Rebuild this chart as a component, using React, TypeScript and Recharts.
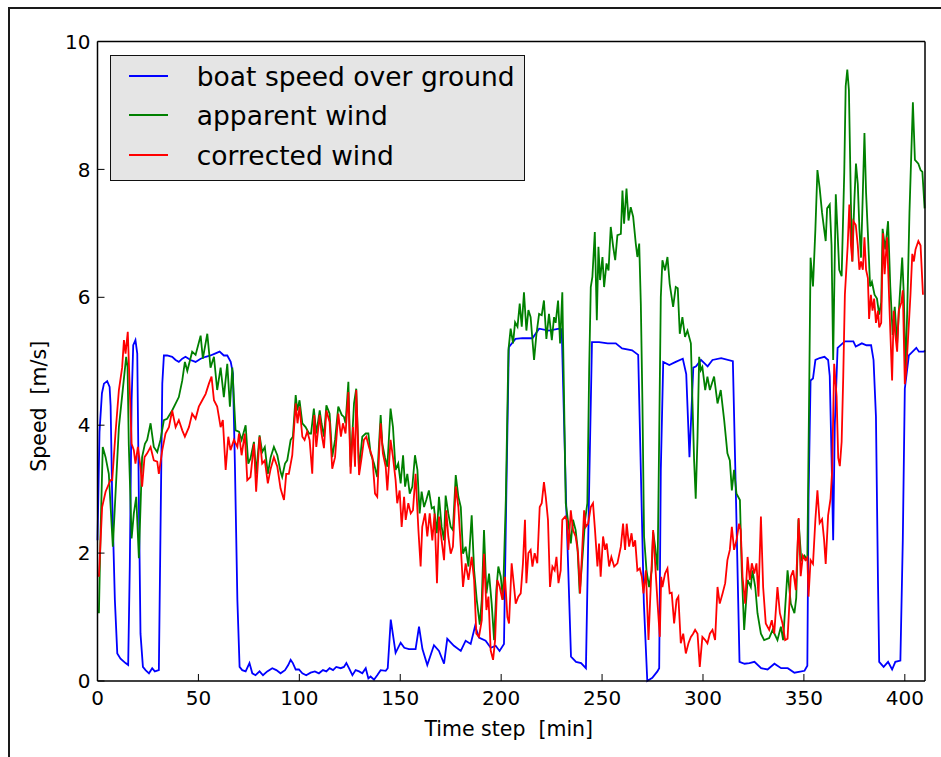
import React from 'react';
import { LineChart, Line, XAxis, YAxis, Legend } from 'recharts';

// ---- data (time step [min], speed [m/s]) ----
const boatSpeed: [number, number][] = [
  [0,2.2],[1,3.9],[2.2,4.5],[3.2,4.65],[4.8,4.69],[6,4.6],[6.5,4.3],[7.3,2.83],[8.6,1.27],[9.8,0.43],[11.4,0.35],[13.9,0.28],[15.2,0.25],[16,1.79],[16.9,4.39],[17.7,5.25],[18.8,5.33],[19.7,5.12],[20.5,2.83],[21.3,0.74],[22.5,0.22],[23.8,0.17],[25.5,0.12],[27.1,0.2],[28.4,0.15],[30.4,0.17],[31.2,2.31],[32.1,4.65],[32.9,5.09],[34.5,5.09],[37,5.07],[38.7,5.02],[40.3,4.99],[42,5.04],[43.6,5.07],[46.1,5.02],[48.6,4.99],[51.1,5.04],[53.6,5.07],[56,5.09],[58.2,5.12],[60.5,5.15],[62.6,5.09],[64.3,5.09],[66,4.99],[67.1,4.81],[68.1,3.35],[69.3,1.27],[70.4,0.22],[71.7,0.17],[73.4,0.15],[75.3,0.28],[76.7,0.12],[78.3,0.09],[80.3,0.15],[82,0.09],[84.1,0.15],[86.6,0.2],[88.6,0.17],[90.7,0.12],[92.9,0.17],[94.5,0.25],[95.7,0.33],[96.8,0.28],[98.2,0.18],[99.8,0.18],[101.5,0.12],[103.4,0.09],[105.6,0.13],[107.7,0.15],[109.7,0.12],[111.7,0.17],[113.4,0.15],[115,0.2],[116.7,0.17],[118.3,0.22],[120.5,0.2],[122.1,0.22],[123.3,0.28],[124.6,0.2],[126.3,0.09],[127.9,0.17],[129.6,0.15],[131.2,0.12],[132.9,0.2],[134.2,0.04],[135.3,0.07],[137,0.02],[138.6,0.09],[140.3,0.17],[142.8,0.16],[143.8,0.2],[145.3,0.96],[147.7,0.44],[150.2,0.6],[152,0.52],[154.3,0.5],[157.6,0.5],[159.3,0.85],[161,0.5],[163.4,0.25],[166.7,0.56],[169.2,0.47],[171.7,0.27],[173.3,0.66],[176.6,0.55],[180,0.47],[182.4,0.63],[184.9,0.58],[187.1,0.86],[189,0.68],[192.3,0.63],[194.8,0.52],[197.3,0.55],[199.2,0.47],[201.4,0.58],[202.6,3.0],[203.8,5.22],[207.1,5.35],[210.5,5.36],[215.5,5.36],[218.8,5.51],[223.7,5.48],[228.7,5.51],[230,5.5],[232.2,2.78],[234.6,0.38],[237.1,0.3],[239.6,0.28],[242,0.2],[243.7,3.2],[245,5.3],[248.5,5.3],[252.8,5.28],[256.8,5.28],[259.9,5.2],[264.9,5.17],[267.9,5.1],[270.7,1.22],[272.4,0.0],[274.9,0.05],[277.4,0.15],[278.3,0.2],[279.1,3.3],[280.3,4.99],[283.3,4.94],[286.5,4.99],[290,5.04],[291.7,4.8],[293.3,3.5],[295.2,4.9],[296.6,4.92],[299,5.02],[302.3,4.92],[304.7,5.02],[309,5.05],[314.8,5.0],[316.4,2.78],[318.1,0.3],[320.6,0.27],[323,0.28],[325.5,0.3],[328.8,0.2],[332,0.18],[335.4,0.27],[338.7,0.2],[342,0.2],[345.3,0.13],[350.3,0.16],[351.7,0.24],[352.3,2.85],[353.3,4.7],[354.5,4.73],[355.7,5.02],[357.8,5.05],[360.2,5.07],[362,5.02],[362.8,4.77],[363.7,3.49],[364.5,2.2],[365.3,4.0],[366.7,5.21],[370.3,5.31],[374.5,5.31],[375.7,5.23],[378.7,5.28],[381,5.25],[383.3,5.25],[384.5,5.02],[385.7,4.13],[386.7,1.57],[387.3,0.3],[389.5,0.22],[391.7,0.3],[393.7,0.18],[395.3,0.3],[397.8,0.32],[399,2.2],[400,4.57],[402,5.09],[405.7,5.21],[407,5.15],[409.5,5.15],[410,5.17],
];

const apparentWind: [number, number][] = [
  [0.7,1.06],[1.5,2.3],[2.6,3.66],[4,3.5],[5.6,3.24],[7.6,2.1],[10.6,3.97],[13,4.7],[14.2,5.07],[14.9,4.91],[15.5,3.7],[16.9,2.23],[18,2.62],[19.2,2.88],[20.5,1.92],[22.1,3.5],[23.5,3.71],[24.6,3.77],[26.3,4.03],[27.9,3.66],[29.6,3.58],[31.2,3.77],[32.9,4.08],[34.5,4.1],[37,4.23],[40.3,4.44],[42,4.7],[43.3,4.99],[44.5,4.85],[46.9,5.15],[48.6,5.1],[51.1,5.4],[52.2,5.04],[54.4,5.43],[56,4.9],[57.7,5.07],[59.3,4.55],[61,4.9],[62.6,4.44],[64.3,4.96],[65.6,4.29],[66.8,4.9],[68.4,3.92],[70.1,3.9],[71.4,3.77],[73.4,4.0],[74.7,3.4],[75.8,3.48],[77.5,3.74],[78.6,3.24],[80.3,3.84],[81.6,3.58],[82.9,3.66],[84.4,3.24],[85.8,3.5],[87.4,3.66],[89.1,3.53],[90.7,3.27],[91.5,3.19],[92.9,3.4],[94,3.45],[95.7,3.77],[96.8,3.82],[98.2,4.47],[99,4.23],[100.1,4.39],[101.5,4.03],[103.1,3.97],[104.8,3.87],[105.8,3.87],[107.2,4.26],[108.4,3.87],[110.1,4.23],[111,4.03],[112.2,3.82],[113.4,4.31],[115,4.18],[116.3,3.5],[117.7,3.77],[119.3,4.29],[121,4.16],[122.1,4.13],[122.9,4.03],[124.3,4.68],[125.4,3.35],[127.1,4.34],[128.2,4.57],[129.6,3.3],[131.2,3.82],[132.9,3.87],[134.2,3.87],[135.3,3.56],[137,3.4],[138.6,3.19],[139.5,3.71],[140.3,4.16],[141.1,3.71],[142.4,3.5],[143.6,3.35],[145.2,4.26],[146.4,3.97],[147.7,3.3],[149,3.4],[150.2,3.09],[151.4,3.53],[152.4,3.04],[153.5,3.24],[154.7,2.93],[156,3.04],[157.3,3.53],[158.5,3.3],[159.6,2.62],[160.6,2.96],[161.8,2.72],[162.9,2.83],[164.2,2.98],[165.6,2.7],[166.7,2.72],[168.1,2.31],[169.2,2.88],[170.5,2.41],[171.7,2.2],[172.5,2.9],[173.8,2.62],[175,2.41],[176.1,2.36],[177.5,3.22],[178.8,2.88],[180,2.72],[181.1,1.99],[182.4,2.1],[183.8,1.79],[185.4,2.59],[186.6,1.73],[187.9,1.27],[189.4,0.88],[190.4,1.27],[191.5,2.36],[192.7,1.37],[194,1.68],[195.3,1.21],[196.5,0.64],[197.6,1.42],[198.6,1.79],[199.8,1.63],[200.9,1.27],[202.3,2.83],[203.6,5.17],[204.7,5.51],[205.9,5.28],[206.9,5.61],[208.1,5.54],[209.2,5.9],[210.2,5.54],[211.3,6.08],[212.5,5.48],[213.5,5.8],[214.6,5.69],[216.3,5.02],[217.5,5.43],[218.8,5.74],[220.1,5.72],[221.2,5.95],[222.4,5.35],[223.7,5.74],[225.1,5.33],[226.2,5.69],[227,5.6],[228.2,5.95],[229.2,5.28],[230.3,6.08],[231.2,4.34],[232,2.78],[233.3,2.46],[234.5,2.15],[235.6,2.52],[236.9,2.36],[237.8,2.1],[238.9,1.37],[240.3,1.94],[241.6,2.52],[242.7,2.78],[243.6,4.86],[244.4,6.16],[245.2,6.32],[246.4,7.02],[247.4,5.64],[248.2,6.79],[249,6.27],[250.2,6.63],[251,6.16],[252.2,6.53],[253.2,6.42],[254.3,7.1],[255.5,6.79],[256.5,6.58],[257.6,6.97],[259.3,6.99],[260.1,7.67],[260.9,7.15],[262.1,7.7],[263.1,7.2],[264.2,7.41],[265.4,7.26],[266.7,6.84],[267.5,6.63],[268.4,6.84],[269.2,5.9],[270,4.34],[270.8,2.26],[272,1.73],[273.3,1.47],[274.6,1.73],[275.3,2.33],[276.3,2.1],[277.5,1.73],[278.3,3.82],[279.1,6.0],[279.9,6.58],[281.2,6.42],[282.4,6.63],[283.5,6.21],[285.2,5.85],[286.5,6.16],[287.5,6.14],[288.5,5.43],[289.8,5.69],[291.1,5.38],[292.3,5.48],[294,5.28],[294.8,4.34],[295.6,3.45],[296.4,2.85],[297.3,3.82],[298.1,5.07],[298.9,4.86],[299.7,4.91],[301.1,4.55],[302.2,4.76],[303.4,4.55],[305.5,4.76],[307.2,4.34],[308.8,4.55],[310.5,4.08],[312.1,3.56],[313.3,3.45],[314.3,2.98],[315.4,3.3],[316.6,2.93],[318.3,2.83],[319.2,1.73],[320.4,0.8],[322.1,1.58],[323.7,1.47],[324.5,1.73],[325.9,1.47],[327,1.06],[328.7,0.74],[330.3,0.64],[332.8,0.67],[334.5,0.8],[336.9,0.64],[338.6,0.85],[339.7,0.64],[341.9,1.73],[343.5,1.21],[345.3,1.06],[346.2,1.3],[347.3,2.53],[348.7,1.89],[350.3,1.96],[351.7,1.89],[352.7,4.77],[353.3,6.62],[354.5,6.17],[355.7,7.07],[356.7,7.99],[357.8,7.71],[359,7.32],[360,7.07],[360.8,6.88],[361.5,7.39],[362.8,7.45],[363.7,6.81],[364.5,5.02],[365,6.04],[365.8,7.61],[366.7,7.0],[367.5,6.43],[368.7,6.33],[370,7.96],[370.7,9.3],[371.5,9.56],[372.3,9.24],[373.3,7.45],[374,6.56],[375,7.51],[375.8,8.09],[376.7,7.77],[377.5,7.07],[378.3,6.62],[379.2,7.64],[380,8.57],[380.8,7.64],[381.7,7.0],[382.8,6.17],[383.7,6.24],[385,6.04],[386.2,5.98],[387.3,5.73],[388.3,5.92],[389,7.07],[390.3,6.75],[391.7,7.19],[392.8,6.17],[394,5.41],[395,5.85],[396.2,5.28],[397.3,5.92],[398.7,6.62],[399.5,6.04],[400.3,4.77],[401.2,5.79],[402.3,7.32],[404,9.05],[404.5,8.6],[405,8.15],[406.7,8.09],[407.8,7.99],[408.7,7.96],[409.8,7.39],
];

const correctedWind: [number, number][] = [
  [0.7,1.63],[2.3,2.72],[4,2.96],[6.4,3.14],[7.3,3.14],[8.9,3.87],[10.6,4.55],[12.2,4.9],[13.1,5.33],[13.9,5.12],[15,5.46],[15.9,4.65],[16.9,3.71],[18,3.61],[18.8,3.4],[20,3.66],[21.3,3.35],[22.1,3.04],[23.3,3.5],[24.6,3.56],[26.3,3.66],[27.9,3.45],[29.6,3.43],[30.4,3.24],[32.1,3.61],[33.7,3.87],[35.4,3.97],[37,4.23],[38.7,3.97],[40.3,4.08],[42,3.92],[43.3,3.82],[45.3,3.97],[46.9,4.18],[48.6,4.1],[50.2,4.29],[51.9,4.39],[53.6,4.49],[55.2,4.65],[56.5,4.76],[57.7,4.39],[59.3,4.29],[61,3.97],[62.1,4.08],[63.5,3.3],[64.8,3.82],[65.9,3.61],[67.6,3.77],[69.3,3.66],[70.1,3.87],[71.4,3.53],[73,3.87],[74.2,3.14],[75.8,3.19],[77.5,3.71],[78.6,2.96],[80.3,3.82],[81.6,3.4],[82.9,3.45],[84.4,3.09],[85.8,3.32],[87.4,3.5],[89.1,3.35],[90.7,3.01],[92.4,2.83],[93.5,3.24],[94.8,3.24],[96.5,3.53],[98.2,4.34],[99.1,4.03],[100.1,4.29],[101.5,3.82],[102.6,3.77],[103.9,3.9],[105.1,3.77],[106.4,3.24],[107.4,4.16],[108.4,3.66],[110.1,4.16],[111,3.87],[112.2,3.64],[113.4,4.23],[115,4.05],[116.3,3.32],[117.7,3.5],[119.3,4.18],[120.6,3.82],[121.6,4.03],[122.9,3.87],[124.3,4.52],[125.4,3.24],[126.6,3.97],[127.6,3.35],[128.2,4.55],[129.6,3.22],[130.9,3.5],[132,3.77],[133.2,3.82],[134.5,3.66],[136.2,3.5],[137.5,2.93],[138.6,2.88],[139.5,3.56],[140.3,4.03],[141.4,3.56],[142.8,3.35],[143.6,2.98],[145.2,3.77],[146.4,3.5],[147.7,3.14],[148.5,2.78],[149.7,2.98],[150.7,2.41],[151.9,2.88],[152.7,2.52],[154,2.78],[155.2,2.62],[156.3,2.67],[157.6,3.24],[159,2.36],[160.1,1.79],[160.9,2.41],[162.3,2.62],[163.4,2.26],[164.6,2.62],[165.9,2.2],[167,2.62],[168.2,1.53],[169.2,2.57],[170.5,2.2],[171.7,1.89],[172.8,2.67],[173.8,2.26],[175,1.99],[176.1,2.1],[177.5,3.04],[178.8,2.72],[180,2.1],[181.1,1.47],[182.4,1.84],[183.8,1.58],[185.4,1.94],[186.6,1.58],[187.7,0.74],[189,0.69],[190.4,0.95],[191.5,1.99],[192.7,1.11],[193.7,1.32],[194.8,0.48],[196,0.33],[197,0.64],[198.1,1.58],[199.3,1.47],[200.6,1.27],[201.9,1.63],[203.1,1.0],[203.9,0.9],[205.2,1.84],[206.4,1.47],[207.2,1.21],[208.5,1.32],[209.7,1.37],[210.8,1.84],[211.8,2.52],[212.5,1.53],[213.5,2.0],[214.6,2.05],[215.5,1.79],[216.6,2.0],[217.9,1.84],[219.1,2.72],[220.1,2.78],[221.2,3.11],[222.1,2.88],[223.2,2.52],[224.2,1.47],[225.4,1.79],[226.5,1.73],[227.4,1.94],[228.4,1.53],[229.5,1.73],[230.3,2.52],[231.7,2.57],[232.5,2.52],[233.3,2.05],[234.5,2.67],[235.6,2.36],[236.9,2.26],[238.1,2.0],[239.1,1.37],[240.3,2.15],[241.1,2.67],[241.9,2.41],[243.1,2.46],[244.4,2.72],[245.5,2.78],[246.5,2.36],[247.7,1.79],[248.5,2.15],[249.3,1.63],[250.5,2.26],[251.5,2.05],[252.3,2.15],[253.5,1.79],[254.6,1.94],[256,1.79],[257.6,1.84],[259.3,2.1],[260.4,2.46],[261.4,2.05],[262.2,2.46],[263.4,2.1],[264.6,2.31],[265.4,2.1],[266.4,2.2],[267.5,1.73],[268.7,1.76],[269.7,1.63],[270.5,1.37],[271.7,1.73],[273,0.64],[274.1,1.47],[275.3,2.36],[276.3,1.84],[277.5,1.21],[278.6,0.69],[279.3,1.63],[279.9,1.47],[281.2,1.68],[282.4,1.76],[283.5,1.37],[284.5,1.38],[285.7,0.9],[286.9,1.27],[287.8,1.32],[289,0.59],[290.2,0.74],[291.5,0.43],[292.8,0.59],[294,0.69],[295.1,0.74],[296.1,0.8],[297.3,0.74],[298.4,0.22],[299.7,0.69],[301.1,0.64],[302.2,0.59],[303.4,0.74],[304.7,0.8],[306,0.64],[307.2,1.47],[308.3,1.21],[309.7,1.37],[311,1.53],[312.1,1.89],[313.3,2.05],[314.3,2.41],[315.4,2.05],[316.6,2.2],[317.9,2.46],[318.7,2.36],[319.6,1.63],[320.9,1.21],[322.1,1.94],[323.2,1.58],[324.2,1.84],[325.4,1.68],[326.5,1.84],[327.5,1.32],[328.7,2.57],[329.8,1.47],[331.1,0.9],[332.8,0.8],[334.1,0.95],[335.3,0.74],[336.9,1.47],[338.1,1.06],[339.4,0.9],[340.7,0.64],[341.9,0.66],[343.5,1.63],[344.7,1.73],[346,1.42],[347.4,2.55],[348.4,1.64],[349.5,1.96],[350.7,1.89],[351.7,1.93],[352.3,1.32],[353.3,1.89],[354.5,1.83],[355.7,2.53],[356.7,2.98],[357.8,2.47],[359,2.53],[360,2.21],[360.8,1.83],[362,2.59],[363.2,2.85],[364,3.3],[365,4.96],[366.2,4.45],[367,3.49],[367.8,3.36],[368.7,3.74],[369.5,4.77],[370.3,6.04],[371.7,6.81],[372.5,7.45],[373.3,6.81],[374,6.56],[374.5,7.19],[375.7,7.13],[376.7,6.81],[377.5,6.43],[378.3,6.56],[379.2,6.43],[380,6.94],[380.8,6.43],[381.7,6.3],[382.3,5.66],[383.2,6.04],[384,5.79],[384.8,5.98],[385.7,5.6],[386.7,5.79],[387.3,5.53],[388.3,5.6],[389.2,7.0],[390,6.36],[391.2,6.94],[392.3,5.92],[393.7,4.7],[394.5,5.79],[395.3,5.41],[396.2,5.15],[397,5.79],[398.3,5.92],[399,6.11],[400,4.64],[400.8,4.9],[401.7,5.41],[402.8,6.04],[403.7,6.68],[404.5,6.56],[405.3,6.75],[406.7,6.88],[407.8,6.81],[409,6.04],
];

const seriesNames = ['boat speed over ground', 'apparent wind', 'corrected wind'];
const seriesColors = ['#0000ff', '#008000', '#ff0000'];
const xTicks = [0, 50, 100, 150, 200, 250, 300, 350, 400];
const yTicks = [0, 2, 4, 6, 8, 10];
const xTitle = 'Time step\u00a0 [min]';
const yTitle = 'Speed\u00a0 [m/s]';

const toRows = (pts: [number, number][]) => pts.map(([t, v]) => ({ t, v }));
const seriesData = [toRows(boatSpeed), toRows(apparentWind), toRows(correctedWind)];

const FONT = "'DejaVu Sans', 'Bitstream Vera Sans', sans-serif";
const tickStyle = { fontSize: 20, fill: '#000', fontFamily: FONT };

const XTitle = (props: any) => {
  const vb = props.viewBox || { x: 97.5, y: 681, width: 827.5 };
  return (
    <text x={vb.x + vb.width / 2 - 2.5} y={vb.y + 55} textAnchor="middle" fontSize={20.5} fontFamily={FONT} fill="#000">
      {xTitle}
    </text>
  );
};

const YTitle = (props: any) => {
  const vb = props.viewBox || { x: 96.5, y: 41.5, height: 639.5 };
  const x = 46;
  const y = vb.y + vb.height / 2 + 45;
  return (
    <text x={x} y={y} transform={`rotate(-90, ${x}, ${y})`} textAnchor="middle" fontSize={20.5} fontFamily={FONT} fill="#000">
      {yTitle}
    </text>
  );
};

const LegendBox = () => (
  <div
    style={{
      position: 'relative', width: 415, height: 126, boxSizing: 'border-box',
      border: '1.5px solid #111', background: '#e5e5e5', fontFamily: FONT, fontSize: 26.5, color: '#000',
    }}
  >
    {seriesNames.map((name, i) => {
      const cy = 20.2 + i * 39.2;
      return (
        <React.Fragment key={name}>
          <div style={{ position: 'absolute', left: 17.8, top: cy - 1, width: 39, height: 2, background: seriesColors[i] }} />
          <div style={{ position: 'absolute', left: 85.8, top: cy - 14, height: 30, lineHeight: '30px', whiteSpace: 'nowrap' }}>{name}</div>
        </React.Fragment>
      );
    })}
  </div>
);

export default function App() {
  return (
    <div style={{ position: 'absolute', left: 0, top: 0, width: 941, height: 757, background: '#fff', overflow: 'hidden' }}>
      <div style={{ position: 'absolute', left: 8, top: 7, right: -10, bottom: -10, borderLeft: '2px solid #1a1a1a', borderTop: '2px solid #1a1a1a' }} />
      <div style={{ position: 'absolute', left: 0, top: 0 }}>
        <LineChart width={941} height={757} margin={{ top: 40.5, right: 15, bottom: 75, left: 96.5 }}>
          <XAxis
            xAxisId="bottom" type="number" dataKey="t" domain={[0, 410]} ticks={xTicks} height={1}
            tickSize={-7} tickMargin={17} tick={tickStyle} interval={0}
            axisLine={{ stroke: '#000', strokeWidth: 1.5 }} tickLine={{ stroke: '#000', strokeWidth: 1 }}
            label={<XTitle />}
          />
          <XAxis
            xAxisId="top" orientation="top" type="number" dataKey="t" domain={[0, 410]} ticks={xTicks} height={1}
            tickSize={-7} tick={false} interval={0}
            axisLine={{ stroke: '#000', strokeWidth: 1.5 }} tickLine={{ stroke: '#000', strokeWidth: 1 }}
          />
          <YAxis
            yAxisId="left" type="number" domain={[0, 10]} ticks={yTicks} width={1}
            tickSize={-7} tickMargin={14} tick={tickStyle} interval={0}
            axisLine={{ stroke: '#000', strokeWidth: 1.5 }} tickLine={{ stroke: '#000', strokeWidth: 1 }}
            label={<YTitle />}
          />
          <YAxis
            yAxisId="right" orientation="right" type="number" domain={[0, 10]} ticks={yTicks} width={1}
            tickSize={-7} tick={false} interval={0}
            axisLine={{ stroke: '#000', strokeWidth: 1.5 }} tickLine={{ stroke: '#000', strokeWidth: 1 }}
          />
          {seriesNames.map((name, i) => (
            <Line
              key={name} name={name} xAxisId="bottom" yAxisId="left" data={seriesData[i]} dataKey="v"
              type="linear" stroke={seriesColors[i]} strokeWidth={1.8} dot={false} activeDot={false}
              isAnimationActive={false}
            />
          ))}
          <Legend
            layout="vertical" align="center" verticalAlign="middle"
            wrapperStyle={{ left: 110, top: 55 }}
            content={<LegendBox />}
          />
        </LineChart>
      </div>
    </div>
  );
}
